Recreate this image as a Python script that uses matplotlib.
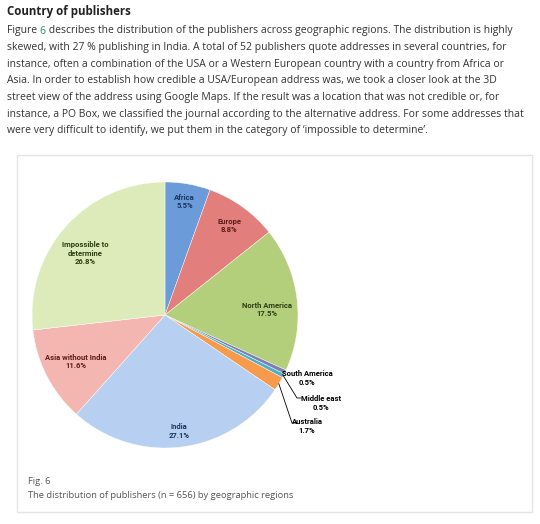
import matplotlib
matplotlib.use("Agg")
import matplotlib.pyplot as plt
from matplotlib.patches import Rectangle
import numpy as np

# ---- data ----
regions = ["Africa", "Europe", "North America", "South America", "Middle east",
           "Australia", "India", "Asia without India", "Impossible to\ndetermine"]
shares = [5.5, 8.8, 17.5, 0.5, 0.5, 1.7, 27.1, 11.6, 26.8]

title = "Country of publishers"
para_lines = [
    "skewed, with 27 % publishing in India. A total of 52 publishers quote addresses in several countries, for",
    "instance, often a combination of the USA or a Western European country with a country from Africa or",
    "Asia. In order to establish how credible a USA/European address was, we took a closer look at the 3D",
    "street view of the address using Google Maps. If the result was a location that was not credible or, for",
    "instance, a PO Box, we classified the journal according to the alternative address. For some addresses that",
    "were very difficult to identify, we put them in the category of \u2018impossible to determine\u2019.",
]
caption_1 = "Fig. 6"
caption_2 = "The distribution of publishers (n = 656) by geographic regions"

# ---- style ----
W, H = 540, 524
colors = ["#6b9bd9", "#e27e7b", "#b3cf7c", "#7f7fb0", "#4fb0c8",
          "#f79a4c", "#b7cff0", "#f4b6b1", "#dcebb9"]
text_colors = ["#1d3560", "#5e1c1a", "#2f3d15", "black", "black",
               "black", "#1d3560", "#5e1c1a", "#2f3d15"]
FONT = "Open Sans"
LFONT = "Roboto"

fig = plt.figure(figsize=(W / 100, H / 100), dpi=100)
fig.patch.set_facecolor("white")

bg = fig.add_axes([0, 0, 1, 1])
bg.set_xlim(0, W)
bg.set_ylim(H, 0)
bg.axis("off")

# title and paragraph
bg.text(7, 12, title, fontsize=8.3, fontweight="bold", family=FONT,
        color="#222222", va="center", ha="left")
pcol = "#333333"
psize = 7.45
t1 = bg.text(7, 31, "Figure ", fontsize=psize, family=FONT, color=pcol,
             va="center", ha="left")
t2 = bg.annotate("6", xy=(1, 0), xycoords=t1, fontsize=psize, family=FONT,
                 color="#2f8f6a", va="bottom", ha="left")
bg.annotate(" describes the distribution of the publishers across geographic regions. The distribution is highly",
            xy=(1, 0), xycoords=t2, fontsize=psize, family=FONT, color=pcol,
            va="bottom", ha="left")
for i, line in enumerate(para_lines):
    bg.text(7, 47.7 + i * 16.6, line, fontsize=psize, family=FONT, color=pcol,
            va="center", ha="left")

# figure box
bg.add_patch(Rectangle((17, 155), 515, 357, facecolor="white",
                       edgecolor="#e4e4e4", linewidth=1.0))
bg.text(28, 482, caption_1, fontsize=6.75, family=FONT, color="#555555",
        va="center", ha="left")
bg.text(28, 495, caption_2, fontsize=6.75, family=FONT, color="#555555",
        va="center", ha="left")

# pie
cx, cy, R = 165, 315, 133
ax = fig.add_axes([(cx - R) / W, 1 - (cy + R) / H, 2 * R / W, 2 * R / H])
wedges, _ = ax.pie(shares, colors=colors, startangle=90, counterclock=False,
                   radius=1.0, wedgeprops=dict(linewidth=0.3, edgecolor="white"))
ax.set_xlim(-1, 1)
ax.set_ylim(-1, 1)
ax.set_aspect("equal")
ax.axis("off")

def px2d(px, py):
    return ((px - cx) / R, (cy - py) / R)

# radial distance and angular nudge (deg) of the inside labels
label_r = [0.865, 0.826, 0.77, None, None, None, 0.88, 0.758, 0.76]
label_da = [0, 0, -4, 0, 0, 0, 0, 0, 4]
lsize = 5.5
for i, w in enumerate(wedges):
    if label_r[i] is None:
        continue
    mid = np.deg2rad((w.theta1 + w.theta2) / 2 + label_da[i])
    txt = f"{regions[i]}\n{shares[i]:.1f}%"
    ax.text(label_r[i] * np.cos(mid), label_r[i] * np.sin(mid), txt,
            ha="center", va="center", fontsize=lsize, fontweight="bold",
            family=LFONT, color=text_colors[i], linespacing=1.25)

# small slices with leaders
small = {3: ((307, 378), None),
         4: ((321, 403), [(297, 398), (301, 398)]),
         5: ((307, 426), [(292, 423), (296, 423)])}
for i, (tpos, path) in small.items():
    w = wedges[i]
    mid = np.deg2rad((w.theta1 + w.theta2) / 2)
    ex, ey = np.cos(mid), np.sin(mid)
    if path:
        pts = [(ex, ey)] + [px2d(*p) for p in path]
        xs, ys = zip(*pts)
        ax.plot(xs, ys, color="black", lw=0.6, clip_on=False)
    tx, ty = px2d(*tpos)
    ax.text(tx, ty, f"{regions[i]}\n{shares[i]:.1f}%", ha="center", va="center",
            fontsize=lsize, fontweight="bold", family=LFONT, color="black",
            linespacing=1.25, clip_on=False)

fig.savefig("out.png", dpi=100, facecolor="white")
